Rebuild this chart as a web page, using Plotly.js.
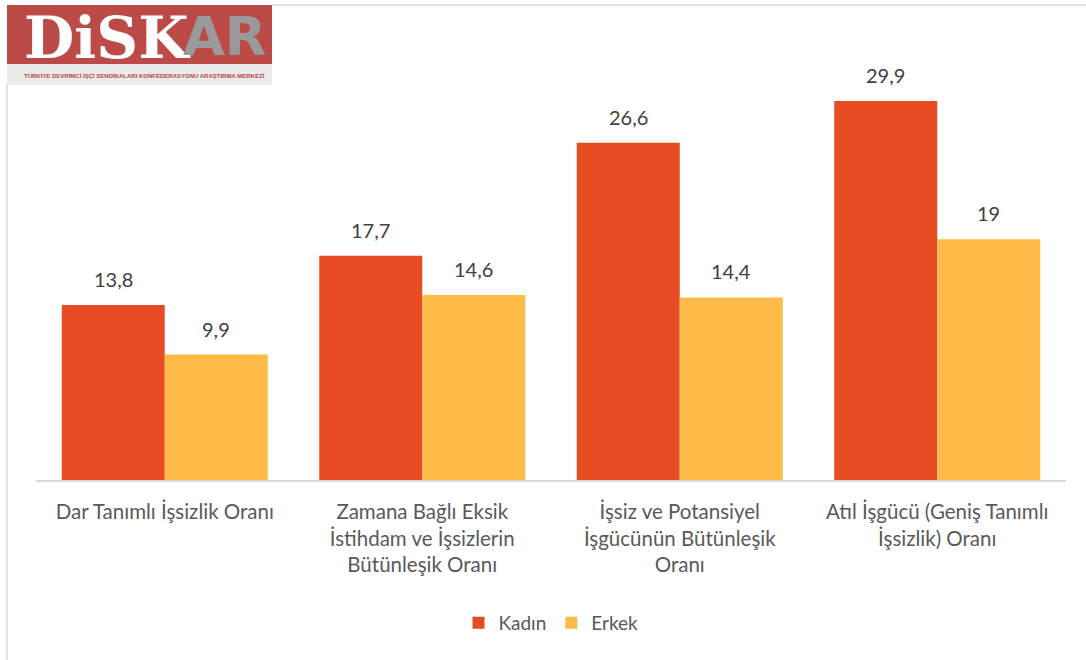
<!DOCTYPE html>
<html>
<head>
<meta charset="utf-8">
<script src="https://cdn.plot.ly/plotly-3.0.1.min.js"></script>
<style>html,body{margin:0;padding:0;background:#fff;}#chart{width:1086px;height:660px;}</style>
</head>
<body>
<div id="chart"></div>
<script>
const categories = [
  "Dar Tanımlı İşsizlik Oranı",
  "Zamana Bağlı Eksik<br>İstihdam ve İşsizlerin<br>Bütünleşik Oranı",
  "İşsiz ve Potansiyel<br>İşgücünün Bütünleşik<br>Oranı",
  "Atıl İşgücü (Geniş Tanımlı<br>İşsizlik) Oranı"
];
const kadin = [13.8, 17.7, 26.6, 29.9];
const erkek = [9.9, 14.6, 14.4, 19];
const seriesNames = ["Kadın", "Erkek"];
const colors = ["#E84C22", "#FFBB47"];

const FONT = "Lato, 'Open Sans', sans-serif";
const fmt = v => String(v).replace('.', ',');

const traces = [kadin, erkek].map((vals, i) => ({
  type: 'bar',
  name: seriesNames[i],
  x: categories,
  y: vals,
  marker: {color: colors[i]},
  hoverinfo: 'skip'
}));

const px = x => (x - 36) / 1030;
const py = y => (480 - y) / 450;

const annotations = [];
[kadin, erkek].forEach((vals, s) => {
  vals.forEach((v, c) => {
    annotations.push({
      x: c + (s === 0 ? -0.2 : 0.2), y: v, xref: 'x', yref: 'y',
      text: fmt(v), showarrow: false, yanchor: 'bottom', yshift: 12,
      font: {family: FONT, size: 20, color: '#404040'}
    });
  });
});

// Logo texts
annotations.push({
  xref: 'paper', yref: 'paper', x: px(22), y: py(38),
  xanchor: 'left', yanchor: 'middle', showarrow: false,
  text: '<b>DiSK</b>', font: {family: "'DejaVu Serif', serif", size: 58, color: '#ffffff'}
});
annotations.push({
  xref: 'paper', yref: 'paper', x: px(181), y: py(37),
  xanchor: 'left', yanchor: 'middle', showarrow: false,
  text: '<b>AR</b>', font: {family: "'DejaVu Sans', sans-serif", size: 54, color: '#9a9a9a'}
});
annotations.push({
  xref: 'paper', yref: 'paper', x: px(144), y: py(76),
  xanchor: 'center', yanchor: 'middle', showarrow: false,
  text: '<b>TÜRKİYE DEVRİMCİ İŞÇİ SENDİKALARI KONFEDERASYONU ARAŞTIRMA MERKEZİ</b>',
  font: {family: "'Liberation Sans', sans-serif", size: 6, color: '#b5443f'}
});

const shapes = [
  {type: 'rect', xref: 'paper', yref: 'paper', x0: px(7), x1: px(272), y0: py(64), y1: py(5),
   fillcolor: '#BC4B47', line: {width: 0}, layer: 'below'},
  {type: 'rect', xref: 'paper', yref: 'paper', x0: px(7), x1: px(272), y0: py(85), y1: py(64),
   fillcolor: '#ececec', line: {width: 0}, layer: 'below'},
  {type: 'line', xref: 'paper', yref: 'paper', x0: px(272), x1: px(1086), y0: py(5), y1: py(5),
   line: {color: '#d9d9d9', width: 1.5}},
  {type: 'line', xref: 'paper', yref: 'paper', x0: px(7), x1: px(7), y0: py(85), y1: py(660),
   line: {color: '#d9d9d9', width: 1.5}}
];

const layout = {
  width: 1086, height: 660,
  margin: {l: 36, r: 20, t: 30, b: 180},
  paper_bgcolor: '#ffffff', plot_bgcolor: '#ffffff',
  barmode: 'group', bargap: 0.2, bargroupgap: 0,
  font: {family: FONT, color: '#595959'},
  showlegend: true,
  legend: {orientation: 'h', x: 0.5, xanchor: 'center', y: py(623), yanchor: 'middle',
           font: {family: FONT, size: 19, color: '#595959'}, traceorder: 'normal'},
  xaxis: {type: 'category', showline: true, linecolor: '#d9d9d9', linewidth: 1.5,
          ticks: '', showgrid: false, zeroline: false, ticklabelstandoff: 13,
          tickfont: {family: FONT, size: 20.5, color: '#595959'}, automargin: false},
  yaxis: {range: [0, 450 / 12.676], visible: false, showgrid: false, zeroline: false, fixedrange: true},
  annotations: annotations,
  shapes: shapes
};

Plotly.newPlot('chart', traces, layout, {displayModeBar: false, staticPlot: true});
</script>
</body>
</html>
